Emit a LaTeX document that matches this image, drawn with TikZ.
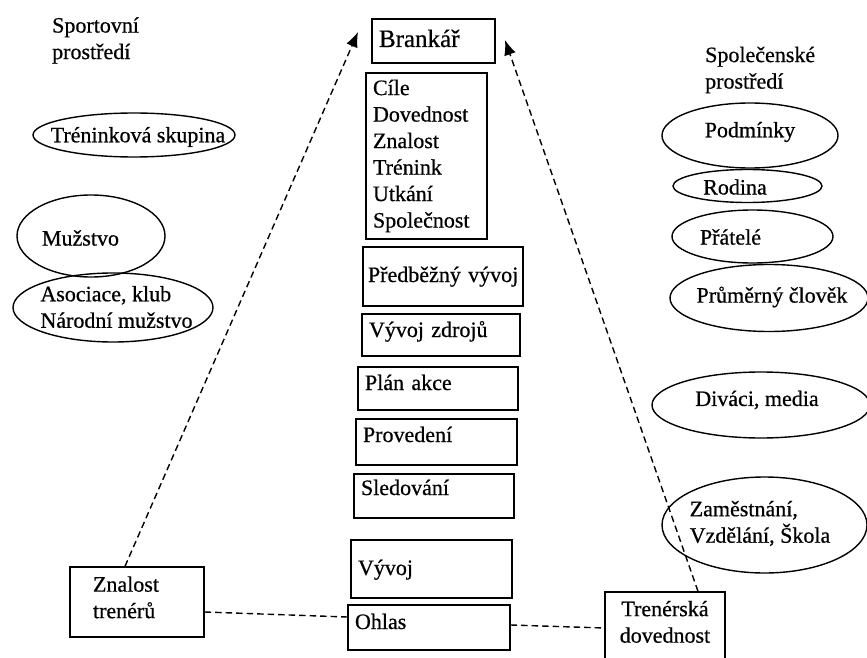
\documentclass[tikz,border=0pt]{standalone}
\usepackage{fontspec}
\setmainfont{Liberation Serif}[FakeBold=0.6]
\usetikzlibrary{shapes.geometric,arrows.meta}
\begin{document}
\begin{tikzpicture}[x=1pt,y=-1pt,
  every node/.style={font=\fontsize{22}{26.5}\selectfont},
  box/.style={draw, line width=1.4pt, rectangle, inner xsep=7pt, inner ysep=0pt, align=left},
  tdp/.style={text height=16pt, text depth=#1},
  ell/.style={draw, ellipse, line width=1.4pt, inner sep=0pt},
  lbl/.style={inner sep=0pt, align=left},
  dsh/.style={line width=1.4pt, dash pattern=on 6.5pt off 4pt},
  arr/.style={dsh, -{Latex[length=15pt,width=12pt]}}
]
\useasboundingbox (0,0) rectangle (867,658);

% titles
\node[lbl, anchor=west] (tsport) at (52,40.5) {Sportovní\\prostředí};
\node[lbl, anchor=west] (tspol) at (705,70) {Společenské\\prostředí};

% centre column
\node[box, tdp=4pt, minimum width=123pt, minimum height=44pt, text width=109pt, font=\fontsize{25}{30}\selectfont] (b1) at (433.5,41) {Brankář};
\node[box, minimum width=121pt, minimum height=166pt, text width=107pt] (b2) at (426.5,156) {Cíle\\Dovednost\\Znalost\\Trénink\\Utkání\\Společnost};
\node[box, tdp=5pt, inner xsep=5pt, minimum width=160pt, minimum height=59pt, text width=150pt] (b3) at (443,276.5) {\mbox{Předběžný vývoj}};
\node[box, tdp=12pt, minimum width=158pt, minimum height=42pt, text width=144pt] (b4) at (441,335) {Vývoj zdrojů};
\node[box, tdp=13pt, minimum width=160pt, minimum height=43pt, text width=146pt] (b5) at (438,388.5) {Plán akce};
\node[box, tdp=16pt, minimum width=161pt, minimum height=46pt, text width=147pt] (b6) at (436.5,442) {Provedení};
\node[box, tdp=18pt, minimum width=160pt, minimum height=44pt, text width=146pt] (b7) at (434,496) {Sledování};
\node[box, tdp=4pt, minimum width=161pt, minimum height=58pt, text width=147pt] (b8) at (431.5,569) {Vývoj};
\node[box, tdp=13pt, minimum width=162pt, minimum height=45pt, text width=148pt] (b9) at (429,627.5) {Ohlas};

% bottom boxes
\node[box, inner xsep=23pt, text depth=36pt, minimum width=134pt, minimum height=70pt, text width=88pt] (b10) at (137,602) {Znalost\\trenérů};
\node[box, align=center, inner xsep=4pt, text depth=55pt, minimum width=120pt, minimum height=88pt, text width=112pt] (b11) at (665,636) {Trenérská\\dovednost};

% left ellipses
\node[ell, minimum width=202pt, minimum height=44pt] (e1) at (134,135) {};
\node[lbl] (t1) at (138,137) {Tréninková skupina};
\node[ell, minimum width=148pt, minimum height=82pt] (e2) at (91,236) {};
\node[lbl] (t2) at (80.5,238) {Mužstvo};
\node[ell, minimum width=200pt, minimum height=69pt] (e3) at (113,307.5) {};
\node[lbl] (t3) at (116.5,307) {Asociace, klub\\Národní mužstvo};

% right ellipses
\node[ell, minimum width=176pt, minimum height=65pt] (e4) at (750,135.5) {};
\node[lbl] (t4) at (750,132) {Podmínky};
\node[ell, minimum width=149pt, minimum height=33pt] (e5) at (747.5,186) {};
\node[lbl] (t5) at (735,187) {Rodina};
\node[ell, minimum width=161pt, minimum height=53pt] (e6) at (752.5,236.5) {};
\node[lbl] (t6) at (730.5,237) {Přátelé};
\node[ell, minimum width=198pt, minimum height=67pt] (e7) at (769,298) {};
\node[lbl] (t7) at (772,297) {Průměrný člověk};
\node[ell, minimum width=218pt, minimum height=66pt] (e8) at (761,405) {};
\node[lbl] (t8) at (757,400) {Diváci, media};
\node[ell, minimum width=205pt, minimum height=96pt] (e9) at (764.5,525) {};
\node[lbl] (t9) at (760,523.5) {Zaměstnání,\\Vzdělání, Škola};

% connectors
\coordinate (tipL) at (358,32);
\coordinate (tipR) at (505,40);
\draw[arr] ([xshift=-12pt]b10.north) -- (tipL);
\draw[arr] ([xshift=33pt]b11.north) -- (tipR);
\draw[dsh] ([yshift=-10pt]b10.east) -- ([yshift=10.5pt]b9.west);
\draw[dsh] ([yshift=2.5pt]b9.east) -- ([yshift=8pt]b11.west);
\end{tikzpicture}
\end{document}
